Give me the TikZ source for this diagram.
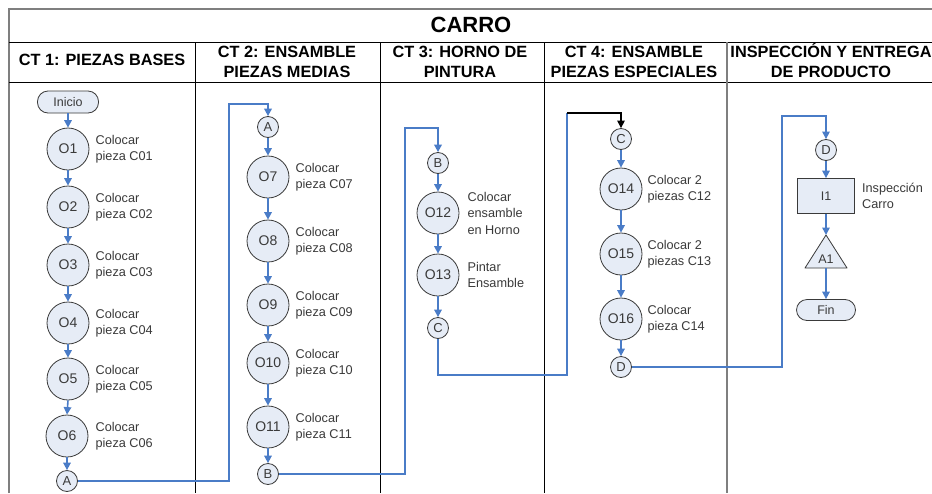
\documentclass[tikz,border=0pt]{standalone}
\usepackage{fontspec}
\setmainfont{Liberation Sans}
\usetikzlibrary{arrows.meta,calc}
\definecolor{nodefill}{HTML}{E6ECF6}
\definecolor{nodeline}{HTML}{3A3A3A}
\definecolor{flow}{HTML}{4A7CC7}
\definecolor{framegray}{HTML}{7F7F7F}
\definecolor{txt}{HTML}{3A3A3A}
\begin{document}
\begin{tikzpicture}[x=1pt,y=-1pt,
  op/.style={circle,draw=nodeline,fill=nodefill,line width=0.8pt,minimum size=42pt,inner sep=0pt,font=\fontsize{14}{16}\selectfont,text=txt},
  conn/.style={circle,draw=nodeline,fill=nodefill,line width=0.8pt,minimum size=21pt,inner sep=0pt,font=\fontsize{13}{15}\selectfont,text=txt},
  term/.style={rectangle,rounded corners=10.5pt,draw=nodeline,fill=nodefill,line width=0.8pt,minimum width=61pt,minimum height=22pt,inner sep=0pt,font=\fontsize{12.5}{14}\selectfont,text=txt},
  insp/.style={rectangle,draw=nodeline,fill=nodefill,line width=0.8pt,minimum width=57pt,minimum height=35pt,inner sep=0pt,font=\fontsize{12.5}{14}\selectfont,text=txt},
  desc/.style={anchor=west,align=left,inner sep=0pt,font=\fontsize{12.7}{16.5}\selectfont,text=txt},
  head/.style={align=center,inner sep=0pt,font=\bfseries\fontsize{16.3}{20}\selectfont},
  flowarrow/.style={draw=flow,line width=1.6pt,-{Triangle[length=7.5pt,width=7.5pt]}},
  longflow/.style={draw=flow,line width=2pt,-{Triangle[length=7.5pt,width=7.5pt]}},
  thinflow/.style={draw=flow,line width=1.1pt},
  thinflowarrow/.style={draw=flow,line width=1.1pt,-{Triangle[length=7.5pt,width=7.5pt]}},
  blackarrow/.style={draw=black,line width=1.1pt,-{Triangle[length=7.5pt,width=7.5pt]}},
  gridline/.style={draw=black,line width=0.9pt},
  frameline/.style={draw=framegray,line width=2pt}
]
\useasboundingbox (0,0) rectangle (932,493);
\fill[white] (0,0) rectangle (932,493);

% frame and header grid
\draw[frameline] (9,493) -- (9,9) -- (940,9);
\draw[gridline] (9,42) -- (940,42);
\draw[gridline] (9,82) -- (940,82);
\draw[gridline] (195,42) -- (195,493);
\draw[gridline] (380,42) -- (380,493);
\draw[gridline] (544,42) -- (544,493);
\draw[frameline] (727,42) -- (727,493);

% headers
\node[head,font=\bfseries\fontsize{22}{26}\selectfont] (title) at (471,25) {CARRO};
\node[head] (h1) at (102,60) {CT 1: PIEZAS BASES};
\node[head] (h2) at (287,62) {CT 2: ENSAMBLE\\PIEZAS MEDIAS};
\node[head] (h3) at (460,62) {CT 3: HORNO DE\\PINTURA};
\node[head] (h4) at (634,62) {CT 4: ENSAMBLE\\PIEZAS ESPECIALES};
\node[head] (h5) at (831,60) {INSPECCIÓN Y ENTREGA\\DE PRODUCTO};

% column 1
\node[term] (inicio) at (68,102) {Inicio};
\node[op] (o1) at (68,149) {O1};
\node[op] (o2) at (68,207) {O2};
\node[op] (o3) at (68,265) {O3};
\node[op] (o4) at (68,323) {O4};
\node[op] (o5) at (68,379) {O5};
\node[op] (o6) at (67,436) {O6};
\node[conn] (ca1) at (67,481) {A};
\node[desc] (l1) at ([xshift=6pt]o1.east) {Colocar\\pieza C01};
\node[desc] (l2) at ([xshift=6pt]o2.east) {Colocar\\pieza C02};
\node[desc] (l3) at ([xshift=6pt]o3.east) {Colocar\\pieza C03};
\node[desc] (l4) at ([xshift=6pt]o4.east) {Colocar\\pieza C04};
\node[desc] (l5) at ([xshift=6pt]o5.east) {Colocar\\pieza C05};
\node[desc] (l6) at ([xshift=7pt]o6.east) {Colocar\\pieza C06};
\draw[flowarrow] (inicio.south) -- (o1.north);
\draw[flowarrow] (o1.south) -- (o2.north);
\draw[flowarrow] (o2.south) -- (o3.north);
\draw[flowarrow] (o3.south) -- (o4.north);
\draw[flowarrow] (o4.south) -- (o5.north);
\draw[flowarrow] (o5.south) -- (o6.north);
\draw[flowarrow] (o6.south) -- (ca1.north);

% column 2
\node[conn] (ca2) at (268,127) {A};
\node[op] (o7) at (268,177) {O7};
\node[op] (o8) at (268,241) {O8};
\node[op] (o9) at (268,305) {O9};
\node[op] (o10) at (268,363) {O10};
\node[op] (o11) at (268,427) {O11};
\node[conn] (cb2) at (268,474) {B};
\node[desc] (l7) at ([xshift=6pt]o7.east) {Colocar\\pieza C07};
\node[desc] (l8) at ([xshift=6pt]o8.east) {Colocar\\pieza C08};
\node[desc] (l9) at ([xshift=6pt]o9.east) {Colocar\\pieza C09};
\node[desc] (l10) at ([xshift=6pt]o10.east) {Colocar\\pieza C10};
\node[desc] (l11) at ([xshift=6pt]o11.east) {Colocar\\pieza C11};
\draw[flowarrow] (ca2.south) -- (o7.north);
\draw[flowarrow] (o7.south) -- (o8.north);
\draw[flowarrow] (o8.south) -- (o9.north);
\draw[flowarrow] (o9.south) -- (o10.north);
\draw[flowarrow] (o10.south) -- (o11.north);
\draw[flowarrow] (o11.south) -- (cb2.north);

% column 3
\node[conn] (cb3) at (438,163) {B};
\node[op] (o12) at (438,213) {O12};
\node[op] (o13) at (438,275) {O13};
\node[conn] (cc3) at (438,328) {C};
\node[desc] (l12) at ([xshift=8pt]o12.east) {Colocar\\ensamble\\en Horno};
\node[desc] (l13) at ([xshift=8pt]o13.east) {Pintar\\Ensamble};
\draw[flowarrow] (cb3.south) -- (o12.north);
\draw[flowarrow] (o12.south) -- (o13.north);
\draw[flowarrow] (o13.south) -- (cc3.north);

% column 4
\node[conn] (cc4) at (621,139) {C};
\node[op] (o14) at (621,189) {O14};
\node[op] (o15) at (621,254) {O15};
\node[op] (o16) at (621,319) {O16};
\node[conn] (cd4) at (621,367) {D};
\node[desc] (l14) at ([xshift=5pt]o14.east) {Colocar 2\\piezas C12};
\node[desc] (l15) at ([xshift=5pt]o15.east) {Colocar 2\\piezas C13};
\node[desc] (l16) at ([xshift=5pt]o16.east) {Colocar\\pieza C14};
\draw[flowarrow] (cc4.south) -- (o14.north);
\draw[flowarrow] (o14.south) -- (o15.north);
\draw[flowarrow] (o15.south) -- (o16.north);
\draw[flowarrow] (o16.south) -- (cd4.north);

% column 5
\node[conn] (cd5) at (826,150) {D};
\node[insp] (i1) at (826,196) {I1};
\node[desc] (li1) at ([xshift=7pt]i1.east) {Inspección\\Carro};
\coordinate (a1top) at (826,235);
\coordinate (a1bot) at (826,268);
\draw[draw=nodeline,fill=nodefill,line width=0.8pt,line join=round] (a1top) -- (847,268) -- (805,268) -- cycle;
\node[inner sep=0pt,font=\fontsize{12.5}{14}\selectfont,text=txt] (a1) at (826,259) {A1};
\node[term,minimum width=59pt,minimum height=21pt] (fin) at (826,310) {Fin};
\draw[flowarrow] (cd5.south) -- (i1.north);
\draw[flowarrow] (i1.south) -- (a1top);
\draw[flowarrow] (a1bot) -- (fin.north);

% long connectors
\coordinate (ka) at (229,104);
\draw[longflow] (ca1.east) -| (ka) -| (ca2.north);
\coordinate (kb) at (405,128);
\draw[longflow] (cb2.east) -| (kb) -| (cb3.north);
\coordinate (kc1) at (567,375);
\coordinate (kc2) at (567,113);
\draw[thinflow] (cc3.south) |- (kc1) -- (kc2);
\draw[blackarrow] (kc2) -| (cc4.north);
\coordinate (kd) at (782,116);
\draw[thinflowarrow] (cd4.east) -| (kd) -| (cd5.north);
\end{tikzpicture}
\end{document}
